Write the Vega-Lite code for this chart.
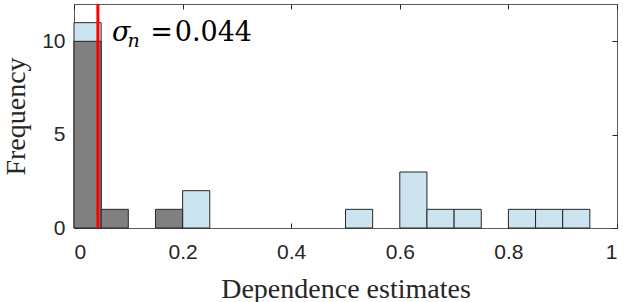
{
  "$schema": "https://vega.github.io/schema/vega-lite/v6.json",
  "width": 543,
  "height": 224,
  "autosize": {"type": "none"},
  "padding": {"left": 74, "top": 4, "right": 6, "bottom": 74},
  "background": "white",
  "config": {
    "view": {"stroke": "#5a5a5a", "strokeWidth": 1},
    "axis": {
      "grid": false,
      "domain": false,
      "tickSize": -5,
      "tickColor": "#262626",
      "tickWidth": 1,
      "labelFont": "Liberation Sans",
      "labelFontSize": 21,
      "labelColor": "#262626",
      "titleFont": "Liberation Serif",
      "titleFontSize": 28,
      "titleFontWeight": "normal",
      "titleColor": "#262626"
    }
  },
  "datasets": {
    "blue": [
      {"bin_start": 0.0, "bin_end": 0.05, "count": 11},
      {"bin_start": 0.2, "bin_end": 0.25, "count": 2},
      {"bin_start": 0.5, "bin_end": 0.55, "count": 1},
      {"bin_start": 0.6, "bin_end": 0.65, "count": 3},
      {"bin_start": 0.65, "bin_end": 0.7, "count": 1},
      {"bin_start": 0.7, "bin_end": 0.75, "count": 1},
      {"bin_start": 0.8, "bin_end": 0.85, "count": 1},
      {"bin_start": 0.85, "bin_end": 0.9, "count": 1},
      {"bin_start": 0.9, "bin_end": 0.95, "count": 1}
    ],
    "gray": [
      {"bin_start": 0.0, "bin_end": 0.05, "count": 10},
      {"bin_start": 0.05, "bin_end": 0.1, "count": 1},
      {"bin_start": 0.15, "bin_end": 0.2, "count": 1}
    ],
    "sigma": [{"sigma_n": 0.044}]
  },
  "resolve": {"axis": {"x": "independent", "y": "independent"}},
  "layer": [
    {
      "data": {"name": "blue"},
      "mark": {"type": "rect", "fill": "#cce3f0", "stroke": "#262626", "strokeWidth": 1},
      "encoding": {
        "x": {"field": "bin_start", "type": "quantitative",
              "scale": {"domain": [0, 1], "nice": false, "zero": false},
              "axis": {"orient": "bottom", "values": [0, 0.2, 0.4, 0.6, 0.8, 1], "format": "~g",
                       "labelPadding": 18, "title": "Dependence estimates", "titlePadding": 13}},
        "x2": {"field": "bin_end"},
        "y": {"field": "count", "type": "quantitative",
              "scale": {"domain": [0, 12], "nice": false},
              "axis": {"orient": "left", "values": [0, 5, 10], "labelPadding": 14,
                       "title": "Frequency", "titlePadding": 11}},
        "y2": {"datum": 0}
      }
    },
    {
      "data": {"name": "gray"},
      "mark": {"type": "rect", "fill": "#808080", "stroke": "#262626", "strokeWidth": 1},
      "encoding": {
        "x": {"field": "bin_start", "type": "quantitative", "axis": null},
        "x2": {"field": "bin_end"},
        "y": {"field": "count", "type": "quantitative", "axis": null},
        "y2": {"datum": 0}
      }
    },
    {
      "data": {"name": "sigma"},
      "mark": {"type": "rule", "color": "#ff0000", "strokeWidth": 3},
      "encoding": {
        "x": {"field": "sigma_n", "type": "quantitative",
              "axis": {"orient": "top", "values": [0, 0.2, 0.4, 0.6, 0.8, 1], "labels": false, "title": null}}
      }
    },
    {
      "data": {"name": "sigma"},
      "mark": {"type": "rule", "opacity": 0},
      "encoding": {
        "y": {"datum": 0, "type": "quantitative",
              "axis": {"orient": "right", "values": [0, 5, 10], "labels": false, "title": null}}
      }
    },
    {
      "data": {"name": "sigma"},
      "mark": {"type": "text", "font": "DejaVu Serif", "fontStyle": "italic", "fontSize": 27, "align": "left", "baseline": "alphabetic", "color": "#000000"},
      "encoding": {
        "x": {"datum": 0.07, "type": "quantitative", "axis": null},
        "y": {"datum": 10, "type": "quantitative", "axis": null},
        "text": {"value": "σ"}
      }
    },
    {
      "data": {"name": "sigma"},
      "mark": {"type": "text", "font": "DejaVu Serif", "fontStyle": "italic", "fontSize": 19, "align": "left", "baseline": "alphabetic", "color": "#000000"},
      "encoding": {
        "x": {"datum": 0.0985, "type": "quantitative", "axis": null},
        "y": {"datum": 9.68, "type": "quantitative", "axis": null},
        "text": {"value": "n"}
      }
    },
    {
      "data": {"name": "sigma"},
      "mark": {"type": "text", "font": "DejaVu Serif", "fontSize": 27, "align": "left", "baseline": "alphabetic", "color": "#000000"},
      "encoding": {
        "x": {"datum": 0.1405, "type": "quantitative", "axis": null},
        "y": {"datum": 10, "type": "quantitative", "axis": null},
        "text": {"value": "="}
      }
    },
    {
      "data": {"name": "sigma"},
      "mark": {"type": "text", "font": "DejaVu Serif", "fontSize": 27, "align": "left", "baseline": "alphabetic", "color": "#000000"},
      "encoding": {
        "x": {"datum": 0.1855, "type": "quantitative", "axis": null},
        "y": {"datum": 10, "type": "quantitative", "axis": null},
        "text": {"field": "sigma_n", "format": ".3f"}
      }
    }
  ]
}
